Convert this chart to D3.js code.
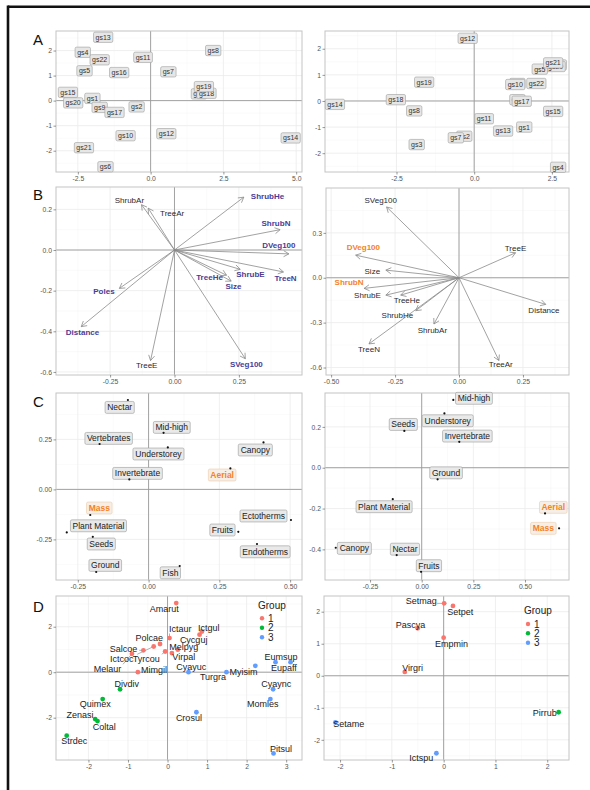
<!DOCTYPE html>
<html><head><meta charset="utf-8">
<script src="https://cdn.jsdelivr.net/npm/d3@7"></script>
<style>body{margin:0;background:#fff}</style>
</head><body>
<svg id="c" width="590" height="790"></svg>
<script>
// ---------- DATA ----------
// Panel A left
const aLSites = ["gs3","gs18","gs13","gs4","gs22","gs11","gs8","gs5","gs16","gs7","gs19","gs15","gs1","gs20","gs9","gs17","gs2","gs10","gs12","gs14","gs21","gs6"];
const aLX = [1.66,1.92,-1.63,-2.33,-1.75,-0.26,2.15,-2.27,-1.08,0.61,1.83,-2.84,-2.0,-2.66,-1.75,-1.24,-0.48,-0.86,0.54,4.81,-2.29,-1.55];
const aLY = [0.27,0.29,2.53,1.93,1.63,1.73,2.0,1.19,1.12,1.15,0.56,0.33,0.09,-0.09,-0.27,-0.47,-0.25,-1.4,-1.32,-1.49,-1.88,-2.64];
// Panel A right
const aRSites = ["gs12","gs16","gs20","gs5","gs21","gs19","gs6","gs10","gs22","gs9","gs17","gs18","gs14","gs8","gs15","gs11","gs1","gs13","gs2","gs7","gs3","gs4"];
const aRX = [-0.21,2.66,2.62,2.11,2.54,-1.61,1.39,1.32,2.0,1.39,1.53,-2.52,-4.48,-1.93,2.54,0.32,1.61,0.93,-0.32,-0.59,-1.85,2.7];
const aRY = [2.40,1.38,1.32,1.22,1.46,0.72,0.67,0.63,0.67,0.05,-0.01,0.05,-0.13,-0.38,-0.40,-0.68,-1.0,-1.15,-1.35,-1.41,-1.67,-2.54];
// Panel B left (vector tips, label positions, highlight flag)
const bLVars = ["ShrubAr","TreeAr","ShrubHe","ShrubN","DVeg100","TreeN","ShrubE","TreeHe","Size","SVeg100","TreeE","Poles","Distance"];
const bLX = [-0.128,-0.102,0.269,0.41,0.444,0.423,0.255,0.202,0.22,0.275,-0.093,-0.214,-0.362];
const bLY = [0.223,0.206,0.26,0.10,-0.019,-0.108,-0.095,-0.124,-0.153,-0.535,-0.544,-0.189,-0.377];
const bLLabX = [-0.175,-0.009,0.361,0.394,0.405,0.431,0.295,0.136,0.229,0.279,-0.108,-0.274,-0.357];
const bLLabY = [0.244,0.182,0.263,0.131,0.024,-0.137,-0.121,-0.132,-0.176,-0.56,-0.568,-0.205,-0.406];
const bLSig = [0,0,1,1,1,1,1,1,1,1,0,1,1];
// Panel B right
const bRVars = ["SVeg100","DVeg100","Size","ShrubN","ShrubE","TreeHe","ShrubHe","TreeN","ShrubAr","TreeAr","TreeE","Distance"];
const bRX = [-0.283,-0.404,-0.286,-0.371,-0.286,-0.228,-0.169,-0.352,-0.098,0.156,0.221,0.339];
const bRY = [0.473,0.151,0.051,-0.071,-0.116,-0.116,-0.22,-0.442,-0.309,-0.553,0.167,-0.178];
const bRLabX = [-0.306,-0.374,-0.339,-0.43,-0.358,-0.204,-0.241,-0.352,-0.104,0.163,0.221,0.332];
const bRLabY = [0.518,0.207,0.047,-0.027,-0.116,-0.153,-0.249,-0.478,-0.353,-0.578,0.2,-0.216];
const bRSig = [0,1,0,1,0,0,0,0,0,0,0,0];
// Panel C left
const cLTraits = ["Nectar","Mid-high","Vertebrates","Understorey","Canopy","Aerial","Invertebrate","Mass","Plant Material","Seeds","Ground","Fish","Ectotherms","Fruits","Endotherms"];
const cLX = [-0.073,0.053,-0.173,0.068,0.406,0.289,-0.068,-0.206,-0.289,-0.197,-0.185,0.11,0.503,0.317,0.383];
const cLY = [0.447,0.283,0.227,0.21,0.235,0.105,0.05,-0.128,-0.215,-0.237,-0.413,-0.383,-0.153,-0.212,-0.273];
const cLLabX = [-0.102,0.082,-0.141,0.035,0.377,0.26,-0.039,-0.174,-0.177,-0.167,-0.153,0.077,0.406,0.261,0.412];
const cLLabY = [0.41,0.31,0.255,0.177,0.197,0.072,0.08,-0.093,-0.182,-0.273,-0.38,-0.417,-0.133,-0.203,-0.312];
const cLSig = [0,0,0,0,0,1,0,1,0,0,0,0,0,0,0];
// Panel C right
const cRTraits = ["Mid-high","Understorey","Seeds","Invertebrate","Ground","Plant Material","Canopy","Nectar","Fruits","Aerial","Mass"];
const cRX = [0.153,0.11,-0.084,0.182,0.077,-0.14,-0.416,-0.121,-0.003,0.597,0.665];
const cRY = [0.332,0.266,0.18,0.127,-0.057,-0.154,-0.392,-0.428,-0.51,-0.224,-0.297];
const cRLabX = [0.253,0.126,-0.089,0.221,0.118,-0.182,-0.326,-0.081,0.035,0.637,0.589];
const cRLabY = [0.34,0.23,0.212,0.155,-0.025,-0.191,-0.395,-0.399,-0.48,-0.194,-0.297];
const cRSig = [0,0,0,0,0,0,0,0,0,1,1];
// Panel D left
const dLSpecies = ["Amarut","Ictgul","Cycguj","Ictaur","Polcae","Ictcoc","Salcoe","Melaur","Tyrcou","Virpal","Melpyg","Mimgil","Cyayuc","Turgra","Myisim","Eumsup","Eupaff","Cyaync","Momles","Crosul","Pitsul","Divdiv","Quimex","Zenasi","Coltal","Strdec"];
const dLGroup = [1,1,1,1,1,1,1,1,1,1,1,1,3,3,3,3,3,3,3,3,3,2,2,2,2,2];
const dLX = [0.22,0.87,0.81,0.05,-0.19,-0.35,-0.61,-0.9,-0.06,0.11,0.26,-0.75,0.53,1.49,2.22,2.73,3.11,2.67,2.6,0.73,2.68,-1.2,-1.64,-1.83,-1.77,-2.55];
const dLY = [3.04,1.79,1.65,1.50,1.24,1.13,0.96,0.81,0.91,0.84,0.99,0.0,0.0,0.0,0.28,0.44,0.44,-0.75,-1.18,-1.76,-3.57,-0.75,-1.18,-2.06,-2.15,-2.79];
const dLLabX = [-0.08,1.04,0.66,0.32,-0.46,-1.16,-1.11,-1.52,-0.54,0.41,0.41,-0.34,0.6,1.15,1.92,2.87,2.94,2.75,2.41,0.54,2.87,-1.03,-1.83,-2.21,-1.6,-2.36];
const dLLabY = [2.79,1.97,1.43,1.90,1.5,0.59,1.03,0.15,0.59,0.69,1.13,0.10,0.25,-0.22,0.0,0.66,0.18,-0.53,-1.41,-2.0,-3.35,-0.53,-1.41,-1.88,-2.4,-3.03];
// Panel D right
const dRSpecies = ["Setmag","Setpet","Pascya","Empmin","Virgri","Setame","Ictspu","Pirrub"];
const dRGroup = [1,1,1,1,1,3,3,2];
const dRX = [0.01,0.18,-0.5,0.0,-0.75,-2.09,-0.14,2.22];
const dRY = [2.26,2.18,1.48,1.19,0.12,-1.46,-2.42,-1.14];
const dRLabX = [-0.43,0.32,-0.64,0.15,-0.6,-1.83,-0.43,1.95];
const dRLabY = [2.33,2.0,1.6,1.01,0.26,-1.49,-2.55,-1.16];
const groups = ["1","2","3"];
// Tick values / labels
const ticksA_Lx = [-2.5,0,2.5,5], ticksA_Lx_lab = ["-2.5","0.0","2.5","5.0"];
const ticksA_Ly = [-2,-1,0,1,2], ticksA_Ly_lab = ["-2","-1","0","1","2"];
const ticksA_Rx = [-2.5,0,2.5], ticksA_Rx_lab = ["-2.5","0.0","2.5"];
const ticksA_Ry = [-2,-1,0,1,2], ticksA_Ry_lab = ["-2","-1","0","1","2"];
const ticksB_Lx = [-0.25,0,0.25], ticksB_Lx_lab = ["-0.25","0.00","0.25"];
const ticksB_Ly = [-0.6,-0.4,-0.2,0,0.2], ticksB_Ly_lab = ["-0.6","-0.4","-0.2","0.0","0.2"];
const ticksB_Rx = [-0.5,-0.25,0,0.25], ticksB_Rx_lab = ["-0.50","-0.25","0.00","0.25"];
const ticksB_Ry = [-0.6,-0.3,0,0.3], ticksB_Ry_lab = ["-0.6","-0.3","0.0","0.3"];
const ticksC_Lx = [-0.25,0,0.25,0.5], ticksC_Lx_lab = ["-0.25","0.00","0.25","0.50"];
const ticksC_Ly = [-0.25,0,0.25], ticksC_Ly_lab = ["-0.25","0.00","0.25"];
const ticksC_Rx = [-0.25,0,0.25,0.5], ticksC_Rx_lab = ["-0.25","0.00","0.25","0.50"];
const ticksC_Ry = [-0.4,-0.2,0,0.2], ticksC_Ry_lab = ["-0.4","-0.2","0.0","0.2"];
const ticksD_Lx = [-2,-1,0,1,2,3], ticksD_Lx_lab = ["-2","-1","0","1","2","3"];
const ticksD_Ly = [-2,0,2], ticksD_Ly_lab = ["-2","0","2"];
const ticksD_Rx = [-2,-1,0,1,2], ticksD_Rx_lab = ["-2","-1","0","1","2"];
const ticksD_Ry = [-2,-1,0,1,2], ticksD_Ry_lab = ["-2","-1","0","1","2"];

// ---------- DRAW ----------
const svg = d3.select("#c");
const FONT = "'Liberation Sans', Arial, Helvetica, sans-serif";
const ORANGE = "#F5821F", PURPLE = "#4B3C94";
const groupColor = d3.scaleOrdinal().domain(groups).range(["#F8766D","#00BA38","#619CFF"]);

svg.append("rect").attr("width",590).attr("height",790).attr("fill","#fff");
// outer frame (top and left visible)
svg.append("line").attr("x1",8).attr("x2",590).attr("y1",6.7).attr("y2",6.7).attr("stroke","#111").attr("stroke-width",2.6);
svg.append("line").attr("x1",8).attr("x2",8).attr("y1",5.4).attr("y2",790).attr("stroke","#111").attr("stroke-width",2.6);

function panel(box, xdom, ydom, xt, xtl, yt, ytl) {
  const [x0,y0,x1,y1] = box;
  const x = d3.scaleLinear().domain(xdom).range([x0,x1]);
  const y = d3.scaleLinear().domain(ydom).range([y1,y0]);
  const g = svg.append("g");
  g.append("rect").attr("x",x0).attr("y",y0).attr("width",x1-x0).attr("height",y1-y0).attr("fill","#fff");
  const minor = (t, dom) => {
    const step = t[1]-t[0]; const out=[];
    for (let v = t[0]-step/2; v <= dom[1]; v += step) if (v>=dom[0]) out.push(v);
    return out;
  };
  minor(xt,xdom).forEach(v=>g.append("line").attr("x1",x(v)).attr("x2",x(v)).attr("y1",y0).attr("y2",y1).attr("stroke","#f4f4f4").attr("stroke-width",0.5));
  minor(yt,ydom).forEach(v=>g.append("line").attr("y1",y(v)).attr("y2",y(v)).attr("x1",x0).attr("x2",x1).attr("stroke","#f4f4f4").attr("stroke-width",0.5));
  xt.forEach(v=>g.append("line").attr("x1",x(v)).attr("x2",x(v)).attr("y1",y0).attr("y2",y1).attr("stroke","#ebebeb").attr("stroke-width",0.8));
  yt.forEach(v=>g.append("line").attr("y1",y(v)).attr("y2",y(v)).attr("x1",x0).attr("x2",x1).attr("stroke","#ebebeb").attr("stroke-width",0.8));
  // zero lines
  g.append("line").attr("x1",x(0)).attr("x2",x(0)).attr("y1",y0).attr("y2",y1).attr("stroke","#9a9a9a").attr("stroke-width",0.9);
  g.append("line").attr("y1",y(0)).attr("y2",y(0)).attr("x1",x0).attr("x2",x1).attr("stroke","#9a9a9a").attr("stroke-width",0.9);
  g.append("rect").attr("x",x0).attr("y",y0).attr("width",x1-x0).attr("height",y1-y0).attr("fill","none").attr("stroke","#c4c4c4").attr("stroke-width",1);
  // axes
  const ax = d3.axisBottom(x).tickValues(xt).tickFormat((d,i)=>xtl[i]).tickSize(2.5).tickPadding(1.5);
  const ay = d3.axisLeft(y).tickValues(yt).tickFormat((d,i)=>ytl[i]).tickSize(2.5).tickPadding(1.5);
  const gx = svg.append("g").attr("transform",`translate(0,${y1})`).call(ax);
  const gy = svg.append("g").attr("transform",`translate(${x0},0)`).call(ay);
  [gx,gy].forEach(a=>{
    a.select(".domain").remove();
    a.selectAll(".tick line").attr("stroke","#555").attr("stroke-width",0.6);
    a.selectAll("text").attr("fill","#555").style("font-family",FONT).style("font-size","6.8px");
  });
  return {x,y,g};
}

function labelBox(g, cx, cy, text, opts) {
  const fs = opts.fs, pad = opts.pad || 2;
  const t = g.append("text").attr("x",cx).attr("y",cy).attr("text-anchor","middle").attr("dy","0.35em")
    .style("font-family",FONT).style("font-size",fs+"px").style("font-weight",opts.bold?"bold":"normal")
    .attr("fill",opts.color||"#222").text(text);
  const bb = t.node().getBBox();
  const w = bb.width + 2*pad, h = fs*1.05 + 2*pad*0.75;
  g.insert("rect", function(){ return t.node(); })
    .attr("x",cx-w/2).attr("y",cy-h/2).attr("width",w).attr("height",h).attr("rx",1.5)
    .attr("fill",opts.fill).attr("stroke",opts.stroke).attr("stroke-width",0.6).attr("fill-opacity",opts.fillOpacity||1);
  return {w,h};
}

function panelLetter(x, y, s) {
  svg.append("text").attr("x",x).attr("y",y).text(s).style("font-family",FONT).style("font-size","15px").attr("fill","#111");
}

// ---- A ----
panelLetter(33,45,"A");
{
  const p = panel([56,31,302,172],[-3.25,5.2],[-2.85,2.78],ticksA_Lx,ticksA_Lx_lab,ticksA_Ly,ticksA_Ly_lab);
  aLSites.forEach((s,i)=>labelBox(p.g,p.x(aLX[i]),p.y(aLY[i]),s,{fs:7,pad:2,fill:"#e6e6e6",stroke:"#9e9e9e",color:"#333"}));
}
{
  const p = panel([325,31,569,172],[-4.8,3.05],[-2.72,2.68],ticksA_Rx,ticksA_Rx_lab,ticksA_Ry,ticksA_Ry_lab);
  aRSites.forEach((s,i)=>labelBox(p.g,p.x(aRX[i]),p.y(aRY[i]),s,{fs:7,pad:2,fill:"#e6e6e6",stroke:"#9e9e9e",color:"#333"}));
}

// ---- B ----
panelLetter(33,200,"B");
function arrows(p, xs, ys, lx, ly, names, sig, sigColor, boldSig) {
  xs.forEach((v,i)=>{
    const ox=p.x(0), oy=p.y(0), tx=p.x(v), ty=p.y(ys[i]);
    const ang = Math.atan2(ty-oy, tx-ox), L=6, a=Math.PI/6;
    p.g.append("line").attr("x1",ox).attr("y1",oy).attr("x2",tx).attr("y2",ty).attr("stroke","#8a8a8a").attr("stroke-width",0.8);
    p.g.append("path").attr("d",`M${tx-L*Math.cos(ang-a)},${ty-L*Math.sin(ang-a)}L${tx},${ty}L${tx-L*Math.cos(ang+a)},${ty-L*Math.sin(ang+a)}`)
      .attr("fill","none").attr("stroke","#8a8a8a").attr("stroke-width",0.8);
  });
  names.forEach((n,i)=>{
    p.g.append("text").attr("x",p.x(lx[i])).attr("y",p.y(ly[i])).attr("dy","0.35em").attr("text-anchor","middle")
      .style("font-family",FONT).style("font-size","8px").style("font-weight",sig[i]&&boldSig?"bold":"normal")
      .attr("fill",sig[i]?sigColor:"#2a2a2a").text(n);
  });
}
{
  const p = panel([56,187,302,375],[-0.46,0.495],[-0.615,0.31],ticksB_Lx,ticksB_Lx_lab,ticksB_Ly,ticksB_Ly_lab);
  arrows(p,bLX,bLY,bLLabX,bLLabY,bLVars,bLSig,PURPLE,true);
}
{
  const p = panel([326,188,569,375],[-0.52,0.43],[-0.65,0.6],ticksB_Rx,ticksB_Rx_lab,ticksB_Ry,ticksB_Ry_lab);
  arrows(p,bRX,bRY,bRLabX,bRLabY,bRVars,bRSig,ORANGE,true);
}

// ---- C ----
panelLetter(33,407,"C");
function traitPanel(p, xs, ys, lx, ly, names, sig) {
  names.forEach((n,i)=>{
    const o = sig[i] ? {fs:8.5,pad:2,fill:"#f6efe8",stroke:"#ecc9a6",color:ORANGE,bold:true}
                     : {fs:8.5,pad:2,fill:"#e9e9e9",stroke:"#9a9a9a",color:"#222"};
    labelBox(p.g,p.x(lx[i]),p.y(ly[i]),n,o);
  });
  xs.forEach((v,i)=>p.g.append("circle").attr("cx",p.x(v)).attr("cy",p.y(ys[i])).attr("r",1.1).attr("fill","#111"));
}
{
  const p = panel([56,393,302,580],[-0.327,0.542],[-0.453,0.482],ticksC_Lx,ticksC_Lx_lab,ticksC_Ly,ticksC_Ly_lab);
  traitPanel(p,cLX,cLY,cLLabX,cLLabY,cLTraits,cLSig);
}
{
  const p = panel([325,393,569,580],[-0.468,0.713],[-0.55,0.366],ticksC_Rx,ticksC_Rx_lab,ticksC_Ry,ticksC_Ry_lab);
  traitPanel(p,cRX,cRY,cRLabX,cRLabY,cRTraits,cRSig);
}

// ---- D ----
panelLetter(33,612,"D");
function speciesPanel(p, xs, ys, lx, ly, names, grp) {
  names.forEach((n,i)=>{
    const px=p.x(xs[i]), py=p.y(ys[i]), tx=p.x(lx[i]), ty=p.y(ly[i]);
    const dx=Math.abs(tx-px), dy=Math.abs(ty-py);
    if (dx>18 || dy>7) {
      const hw = n.length*2.6, hh=4.5;
      const ex = Math.max(tx-hw, Math.min(px, tx+hw)), ey = Math.max(ty-hh, Math.min(py, ty+hh));
      p.g.append("line").attr("x1",px).attr("y1",py).attr("x2",ex).attr("y2",ey).attr("stroke","#666").attr("stroke-width",0.5);
    }
  });
  xs.forEach((v,i)=>p.g.append("circle").attr("cx",p.x(v)).attr("cy",p.y(ys[i])).attr("r",2.4).attr("fill",groupColor(String(grp[i]))));
  names.forEach((n,i)=>p.g.append("text").attr("x",p.x(lx[i])).attr("y",p.y(ly[i])).attr("dy","0.35em").attr("text-anchor","middle")
    .style("font-family",FONT).style("font-size","9px").attr("fill","#222").text(n));
}
function legend(x, yTitle, yItems) {
  svg.append("text").attr("x",x).attr("y",yTitle).attr("dy","0.35em").text("Group").style("font-family",FONT).style("font-size","10px").attr("fill","#222");
  groups.forEach((gname,i)=>{
    svg.append("circle").attr("cx",x+4).attr("cy",yItems[i]).attr("r",2.2).attr("fill",groupColor(gname));
    svg.append("text").attr("x",x+10).attr("y",yItems[i]).attr("dy","0.35em").text(gname).style("font-family",FONT).style("font-size","10px").attr("fill","#222");
  });
}
{
  const p = panel([56,596,302,760],[-2.82,3.4],[-3.86,3.35],ticksD_Lx,ticksD_Lx_lab,ticksD_Ly,ticksD_Ly_lab);
  speciesPanel(p,dLX,dLY,dLLabX,dLLabY,dLSpecies,dLGroup);
  legend(258,605,[618.3,627.7,637.3]);
}
{
  const p = panel([324,596,569,760],[-2.31,2.42],[-2.63,2.49],ticksD_Rx,ticksD_Rx_lab,ticksD_Ry,ticksD_Ry_lab);
  speciesPanel(p,dRX,dRY,dRLabX,dRLabY,dRSpecies,dRGroup);
  legend(524,610,[624,633.3,642.7]);
}
</script>
</body></html>
